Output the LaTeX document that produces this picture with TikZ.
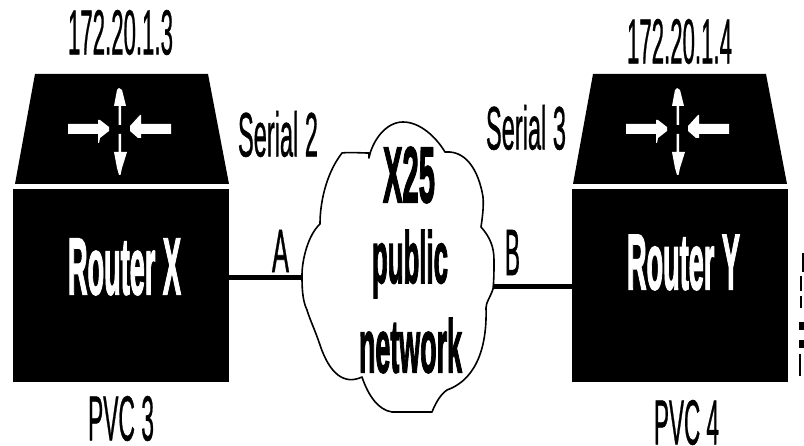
\documentclass[tikz,border=0pt]{standalone}
\usepackage{fontspec}
\usepackage{graphicx}
\setmainfont{Liberation Sans}
\newfontfamily\heavyfont{Liberation Sans}[UprightFont=* Bold,FakeBold=2.5]
\newfontfamily\midfont{Liberation Sans}[FakeBold=1]
\tikzset{
  fitted/.style={inner sep=0pt,outer sep=0pt,text=black},
  routerbody/.style={fill=black,draw=none,inner sep=0pt,outer sep=0pt,minimum width=216pt,minimum height=193pt},
  link/.style={draw=black,line width=5pt},
  cloudline/.style={draw=black,line width=1.6pt,line join=round},
  wmark/.style={fill=white,draw=none},
}
% x0 x1 y0 y1 name options text
\newcommand{\lbl}[7]{%
  \pgfmathsetmacro{\lblw}{#2-#1}\pgfmathsetmacro{\lblh}{#4-#3}%
  \node[fitted,#6] (#5) at ({(#1+#2)/2},{(#3+#4)/2})
    {\resizebox*{\lblw pt}{\lblh pt}{#7}};}
% trapezoid + four arrows, dx = horizontal shift
\newcommand{\routertop}[1]{%
  \begin{scope}[xshift=#1pt]
    \fill[black] (35,74) -- (208,74) -- (229,184) -- (15,184) -- cycle;
    \fill[wmark] (68,124) -- (98,124) -- (98,120) -- (100,120) -- (109,127) -- (109,131) -- (100,138) -- (99,143) -- (98,143) -- (98,134) -- (68,134) -- cycle;
    \fill[wmark] (171,124) -- (141,124) -- (141,115) -- (140,115) -- (130,126) -- (130,131) -- (138,138) -- (141,138) -- (141,134) -- (171,134) -- cycle;
    \fill[wmark] (119,88) -- (122,90) -- (126,106) -- (121,106) -- (121,125) -- (118.5,125) -- (118.5,106) -- (114,106) -- (117,90) -- cycle;
    \fill[wmark] (118.5,134) -- (121,134) -- (121,152) -- (127,152) -- (122,168) -- (120.5,175) -- (119,175) -- (117,168) -- (114,152) -- (118.5,152) -- cycle;
  \end{scope}}
\begin{document}
\begin{tikzpicture}[x=1pt,y=-1pt]
\useasboundingbox (0,0) rectangle (804,446);
\fill[white] (0,0) rectangle (804,446);

\routertop{0}
\routertop{558}
\node[routerbody] (routerX) at (121,285.5) {};
\node[routerbody] (routerY) at (680,285.5) {};

% cloud
\draw[cloudline]
  (369,158) .. controls (372,142) and (385,122) .. (403,122)
  .. controls (420,122) and (436,137) .. (445,152)
  .. controls (470,150) and (480,178) .. (483,197)
  .. controls (484,207) and (482,220) .. (481,227)
  .. controls (490,237) and (494,247) .. (494,260)
  .. controls (494,270) and (494,280) .. (493,289)
  .. controls (490,298) and (486,302) .. (486,308)
  .. controls (487,340) and (480,378) .. (447,390)
  .. controls (441,394) and (436,402) .. (432,412)
  .. controls (425,412) and (410,412) .. (392,412)
  .. controls (378,410) and (368,395) .. (362,377)
  .. controls (345,385) and (330,375) .. (320,345)
  .. controls (315,330) and (310,320) .. (307,310)
  .. controls (302,300) and (302,285) .. (302,275)
  .. controls (302,260) and (308,235) .. (320,224)
  .. controls (320,205) and (325,175) .. (342,153)
  .. controls (350,152) and (360,153) .. (369,153) -- cycle;
\coordinate (cloudW) at (302,278);
\coordinate (cloudE) at (493,287);

% links
\draw[link] (routerX.east |- cloudW) -- (cloudW);
\draw[link] (cloudE) -- (routerY.west |- cloudE);

% labels
\lbl{68}{173}{10}{55}{ipX}{}{\midfont 172.20.1.3}
\lbl{627}{732}{19}{64}{ipY}{}{\midfont 172.20.1.4}
\lbl{68}{181}{239}{295}{nameX}{}{\color{white}\heavyfont Router X}
\lbl{627}{740}{235}{290}{nameY}{}{\color{white}\heavyfont Router Y}
\lbl{88}{154}{396}{441}{pvcX}{}{\midfont PVC 3}
\lbl{654}{719}{400}{445}{pvcY}{}{\midfont PVC 4}
\lbl{272}{289}{230}{272}{labA}{}{\midfont A}
\lbl{505}{520}{230}{275}{labB}{}{\midfont B}
\lbl{238}{318}{111}{157}{serX}{}{\midfont Serial 2}
\lbl{486}{566}{105}{150}{serY}{}{\midfont Serial 3}
\lbl{383}{435}{147}{203}{cloudA}{}{\heavyfont X25}
\lbl{372}{448}{230}{298}{cloudB}{}{\heavyfont public}
\lbl{359}{462}{318}{373}{cloudC}{}{\heavyfont network}

% clipped margin marks at the right edge
\fill[black] (801.5,253) rectangle (804,272);
\fill[black] (800,276) rectangle (802,291);
\fill[black] (800,296) rectangle (802,308);
\fill[black] (799,322) rectangle (804,330);
\fill[black] (799,340) rectangle (804,348);
\fill[black] (799,354) rectangle (801,376);
\end{tikzpicture}
\end{document}
